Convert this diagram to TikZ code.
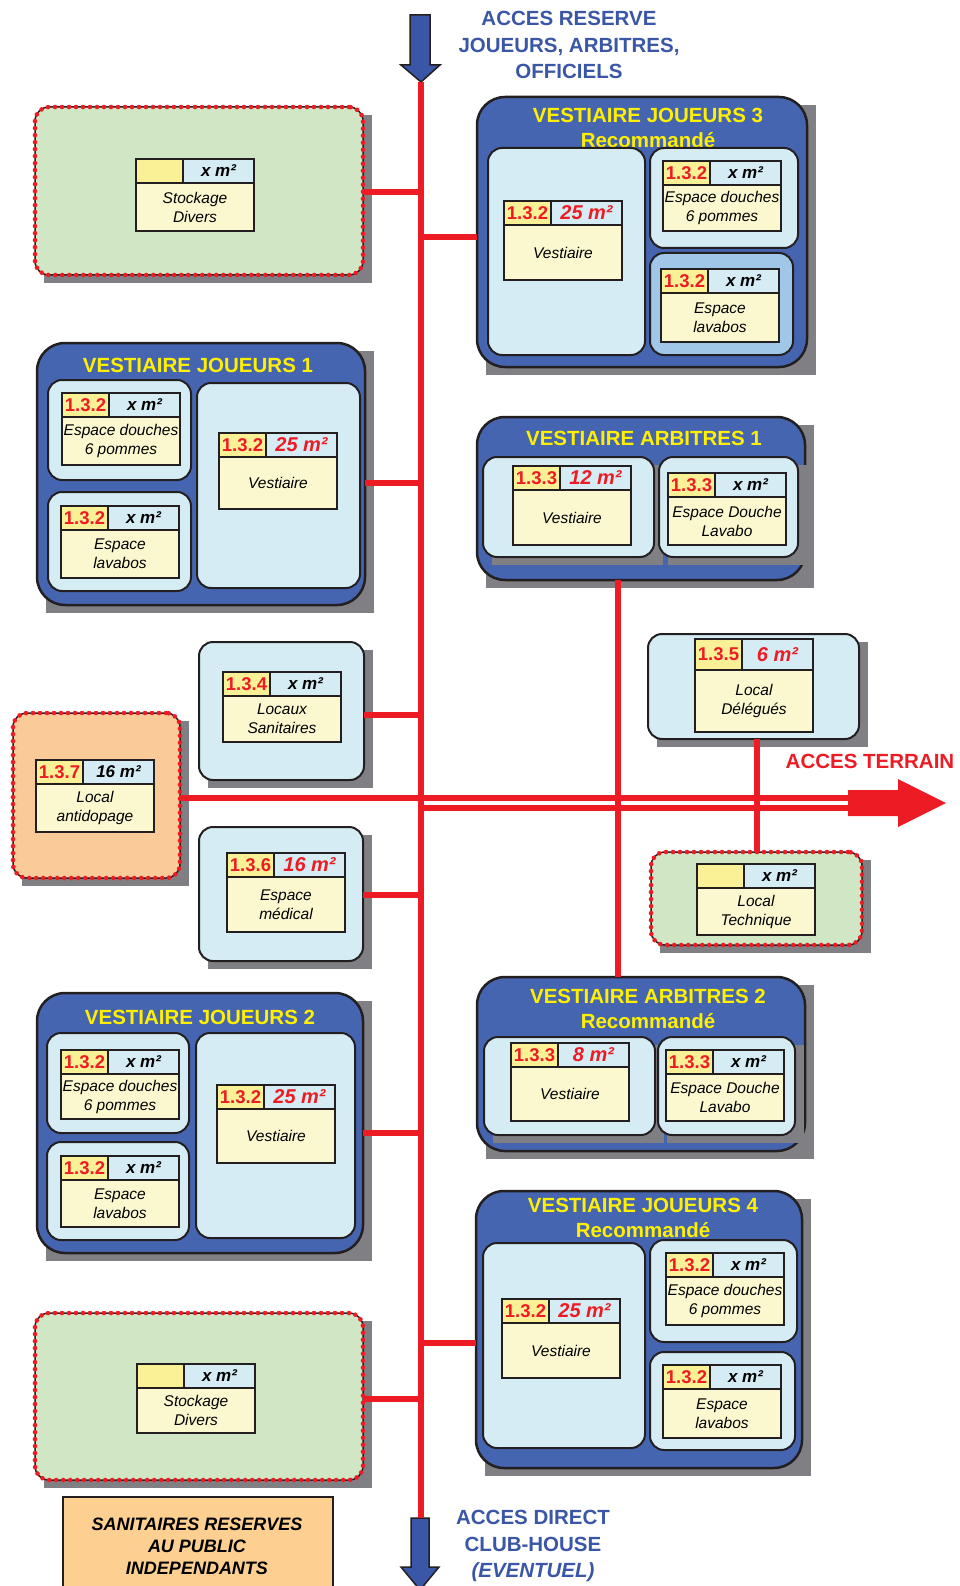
\documentclass[tikz,border=0pt]{standalone}
\usepackage{fontspec}
\setmainfont{Liberation Sans}

\definecolor{zoneblue}{RGB}{70,101,176}
\definecolor{paleblue}{RGB}{213,236,244}
\definecolor{midblue}{RGB}{160,199,232}
\definecolor{tagyellow}{RGB}{251,248,208}
\definecolor{numyellow}{RGB}{250,240,150}
\definecolor{greenzone}{RGB}{208,230,196}
\definecolor{orangezone}{RGB}{250,202,152}
\definecolor{sanitfill}{RGB}{253,208,145}
\definecolor{accred}{RGB}{237,28,36}
\definecolor{titleyellow}{RGB}{255,240,0}
\definecolor{textblue}{RGB}{58,86,166}
\definecolor{shadowc}{RGB}{128,128,132}
\definecolor{edge}{RGB}{35,31,32}

\newcommand\zoneflat[6][room]{%
  \node[#1,minimum width={#5-#3},minimum height={#6-#4}] (#2) at ({(#3+#5)/2},{(#4+#6)/2}) {};}
\newcommand\zone[6][room]{%
  \fill[shadowc] ({#3+9},{#4+8}) rectangle ({#5+9},{#6+8});
  \zoneflat[#1]{#2}{#3}{#4}{#5}{#6}}
\newcommand\roomtag[8][24]{%
  \node[tagbody,minimum height={#5-#1},anchor=north west] (#2) at (#3,#4+#1) {#8};
  \node[tagnum,minimum height=#1,anchor=south west] (#2-n) at (#2.north west) {#6};
  \node[tagarea,minimum height=#1,anchor=south east] (#2-a) at (#2.north east) {#7};}
\newcommand\rsq[1]{\textcolor{accred}{\fontsize{20}{20}\selectfont #1 m²}}

\begin{document}
\begin{tikzpicture}[x=1pt, y=-1pt,
  box/.style = {draw=edge, inner sep=0pt, outer sep=0pt},
  container/.style = {box, line width=2.5pt, fill=zoneblue, rounded corners=28pt},
  room/.style = {box, line width=2pt, fill=paleblue, rounded corners=14pt},
  reserve/.style = {room, line width=1.5pt, fill=greenzone,
    postaction={draw=accred, line width=4.6pt, dash pattern=on 0pt off 7pt, line cap=round}},
  tagbody/.style = {box, line width=1.6pt, fill=tagyellow, minimum width=118pt, inner sep=1pt,
    align=center, font=\itshape\fontsize{15.5}{19}\selectfont},
  tagnum/.style = {box, line width=1.6pt, fill=numyellow, minimum width=47pt,
    text=accred, font=\bfseries\fontsize{18.5}{18}\selectfont},
  tagarea/.style = {box, line width=1.6pt, fill=paleblue, minimum width=71pt,
    font=\bfseries\itshape\fontsize{17}{17}\selectfont},
  title/.style = {text=titleyellow, align=center, font=\bfseries\fontsize{20.5}{25}\selectfont},
  access/.style = {text=textblue, align=center, font=\bfseries\fontsize{20.5}{26.5}\selectfont},
  link/.style = {draw=accred, line width=6.5pt},
  blue arrow/.style = {fill=textblue, draw=edge, line width=1.5pt, line join=miter}]
  \useasboundingbox (0,0) rectangle (960,1586);
  \clip (0,0) rectangle (960,1586);

  \coordinate (spinetop) at (421,82);
  \coordinate (spinebot) at (421,1518);
  \coordinate (terrain) at (850,800);
  \filldraw[blue arrow] (410,15) -- (430,15) -- (430,65) -- (440,65) -- (421,82)
    -- (401,65) -- (410,65) -- cycle;
  \filldraw[blue arrow] (411,1518) -- (429,1518) -- (429,1567) -- (439,1567) -- (420,1590)
    -- (401,1567) -- (411,1567) -- cycle;
  \draw[link] (spinetop) -- (spinebot);
  \node[access] (entree) at (569,45) {ACCES RESERVE\\JOUEURS, ARBITRES,\\OFFICIELS};
  \node[access] (sortie) at (533,1546) {ACCES DIRECT\\CLUB-HOUSE\\\textit{(EVENTUEL)}};

  \zone[reserve]{stockA}{35}{107}{363}{275}
  \roomtag{stockA-t}{136}{159}{72}{}{x m²}{Stockage\\Divers}

  \zone[container]{vj3}{477}{97}{807}{367}
  \node[title] (vj3-t) at (648,127.5) {VESTIAIRE JOUEURS 3\\Recommandé};
  \zoneflat{vj3-a}{488}{148}{645}{355}
  \zoneflat{vj3-b}{650}{148}{798}{248}
  \zoneflat[room,fill=midblue]{vj3-c}{650}{253}{793}{355}
  \roomtag{vj3-a-t}{504}{201}{79}{1.3.2}{\rsq{25}}{Vestiaire}
  \roomtag{vj3-b-t}{663}{161}{70}{1.3.2}{x m²}{Espace douches\\6 pommes}
  \roomtag{vj3-c-t}{661}{269}{73}{1.3.2}{x m²}{Espace\\lavabos}

  \zone[container]{vj1}{37}{343}{365}{605}
  \node[title] (vj1-t) at (198,365) {VESTIAIRE JOUEURS 1};
  \zoneflat{vj1-a}{48}{380}{191}{480}
  \zoneflat{vj1-b}{48}{492}{191}{591}
  \zoneflat{vj1-c}{197}{383}{360}{588}
  \roomtag{vj1-a-t}{62}{393}{72}{1.3.2}{x m²}{Espace douches\\6 pommes}
  \roomtag{vj1-b-t}{61}{506}{72}{1.3.2}{x m²}{Espace\\lavabos}
  \roomtag{vj1-c-t}{219}{433}{76}{1.3.2}{\rsq{25}}{Vestiaire}

  \zone[container]{va1}{477}{417}{805}{580}
  \node[title] (va1-t) at (644,438) {VESTIAIRE ARBITRES 1};
  \zone{va1-a}{483}{457}{654}{557}
  \zone{va1-b}{659}{457}{798}{557}
  \roomtag{va1-a-t}{513}{466}{79}{1.3.3}{\rsq{12}}{Vestiaire}
  \roomtag{va1-b-t}{668}{473}{72}{1.3.3}{x m²}{Espace Douche\\Lavabo}

  \zone{locsan}{199}{642}{364}{780}
  \roomtag{locsan-t}{223}{672}{70}{1.3.4}{x m²}{Locaux\\Sanitaires}

  \zone[reserve,fill=orangezone]{antidop}{13}{713}{180}{878}
  \roomtag{antidop-t}{36}{760}{72}{1.3.7}{16 m²}{Local\\antidopage}

  \zone{medical}{199}{827}{363}{961}
  \roomtag{medical-t}{227}{853}{79}{1.3.6}{\rsq{16}}{Espace\\médical}

  \zone{deleg}{648}{634}{859}{739}
  \roomtag[31]{deleg-t}{695}{639}{93}{1.3.5}{\rsq{6}}{Local\\Délégués}

  \zone[reserve]{tech}{651}{852}{862}{945}
  \roomtag{tech-t}{697}{864}{71}{}{x m²}{Local\\Technique}

  \zone[container]{va2}{477}{977}{805}{1151}
  \node[title] (va2-t) at (648,1008.5) {VESTIAIRE ARBITRES 2\\Recommandé};
  \zone{va2-a}{484}{1037}{655}{1135}
  \zone{va2-b}{658}{1037}{795}{1135}
  \roomtag{va2-a-t}{511}{1043}{78}{1.3.3}{\rsq{8}}{Vestiaire}
  \roomtag{va2-b-t}{666}{1050}{71}{1.3.3}{x m²}{Espace Douche\\Lavabo}

  \zone[container]{vj2}{37}{993}{363}{1253}
  \node[title] (vj2-t) at (200,1017) {VESTIAIRE JOUEURS 2};
  \zoneflat{vj2-a}{47}{1033}{189}{1133}
  \zoneflat{vj2-b}{47}{1142}{189}{1240}
  \zoneflat{vj2-c}{196}{1033}{355}{1238}
  \roomtag{vj2-a-t}{61}{1050}{69}{1.3.2}{x m²}{Espace douches\\6 pommes}
  \roomtag{vj2-b-t}{61}{1156}{71}{1.3.2}{x m²}{Espace\\lavabos}
  \roomtag{vj2-c-t}{217}{1085}{78}{1.3.2}{\rsq{25}}{Vestiaire}

  \zone[container]{vj4}{476}{1191}{802}{1468}
  \node[title] (vj4-t) at (643,1217.5) {VESTIAIRE JOUEURS 4\\Recommandé};
  \zoneflat{vj4-a}{483}{1243}{645}{1448}
  \zoneflat{vj4-b}{650}{1240}{797}{1342}
  \zoneflat{vj4-c}{650}{1352}{795}{1450}
  \roomtag{vj4-a-t}{502}{1299}{79}{1.3.2}{\rsq{25}}{Vestiaire}
  \roomtag{vj4-b-t}{666}{1253}{72}{1.3.2}{x m²}{Espace douches\\6 pommes}
  \roomtag{vj4-c-t}{663}{1365}{73}{1.3.2}{x m²}{Espace\\lavabos}

  \zone[reserve]{stockB}{35}{1313}{363}{1480}
  \roomtag{stockB-t}{137}{1364}{69}{}{x m²}{Stockage\\Divers}

  \node[box, line width=2pt, fill=sanitfill, minimum width=270pt, minimum height=110pt,
    anchor=north west] (sanit) at (63,1497) {};
  \node[align=center, font=\bfseries\itshape\fontsize{18}{22}\selectfont] (sanit-t)
    at (197,1546) {SANITAIRES RESERVES\\AU PUBLIC\\INDEPENDANTS};

  \foreach \n/\a/\dy in {stockA/east/-1, vj3/west/-5, vj1/east/-9, locsan/east/-4,
      medical/east/-1, vj2/east/-10, vj4/west/-13.5, stockB/east/-2.5} {
    \path ([yshift=\dy pt]\n.\a) coordinate (tmp);
    \draw[link] (tmp) -- (tmp -| spinetop);
  }
  \path ([xshift=-23pt]va1.south) coordinate (arb);
  \draw[link] (arb) -- (arb |- va2.north);
  \path ([xshift=3.5pt]deleg.south) coordinate (del);
  \draw[link] (del) -- (del |- tech.north);

  \path ([yshift=-2.5pt]antidop.east) coordinate (highlane);
  \path ([yshift=-12.5pt]antidop.east) coordinate (lowlane);
  \draw[link, line width=6pt] (highlane) -- (highlane -| terrain);
  \draw[link, line width=6pt] (lowlane -| spinetop) -- (lowlane -| terrain);
  \fill[accred] (848,790) -- (898,790) -- (898,779) -- (946,803) -- (898,827)
    -- (898,816) -- (848,816) -- cycle;
  \node[text=accred, font=\bfseries\fontsize{20.5}{24}\selectfont] (terrain-t)
    at (870,761) {ACCES TERRAIN};
\end{tikzpicture}
\end{document}
